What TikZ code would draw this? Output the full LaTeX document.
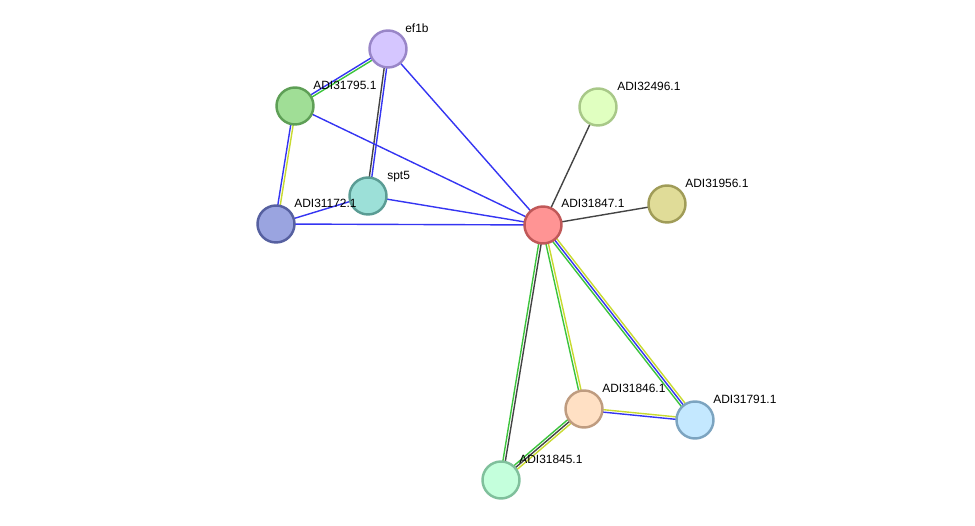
\documentclass[tikz,border=0pt]{standalone}
\usepackage{fontspec}
\setmainfont{Liberation Sans}
\usetikzlibrary{calc, backgrounds}

\definecolor{evblue}{HTML}{3535F2}
\definecolor{evgreen}{HTML}{3CC43C}
\definecolor{evyellow}{HTML}{C8DA30}
\definecolor{evgray}{HTML}{444444}

% one evidence line of an edge, shifted sideways: from, to, colour, offset
\newcommand{\evline}[4]{%
  \draw[evid, #3] ($(#1)!#4!90:(#2)$) -- ($(#2)!#4!-90:(#1)$);}

\begin{document}
\begin{tikzpicture}[
    x=0.02cm, y=-0.02cm,
    prot/.style={circle, line width=1.4pt, minimum size=0.74cm, inner sep=0pt},
    evid/.style={line width=0.8pt},
    lbl/.style={anchor=base west, font=\fontsize{6.8}{8}\selectfont, inner sep=0pt},
]
\useasboundingbox (0,0) rectangle (975,526);

% ============================ proteins ==================================
\node[prot, fill={rgb,255:red,213;green,198;blue,255}, draw={rgb,255:red,153;green,134;blue,200}] (ef1b) at (388,49) {};
\node[prot, fill={rgb,255:red,160;green,222;blue,150}, draw={rgb,255:red,94;green,159;blue,86}] (p31795) at (295,106) {};
\node[prot, fill={rgb,255:red,156;green,224;blue,216}, draw={rgb,255:red,90;green,156;blue,148}] (spt5) at (368,196) {};
\node[prot, fill={rgb,255:red,154;green,164;blue,224}, draw={rgb,255:red,86;green,96;blue,160}] (p31172) at (276,224) {};
\node[prot, fill={rgb,255:red,255;green,148;blue,148}, draw={rgb,255:red,192;green,88;blue,88}] (p31847) at (543,225) {};
\node[prot, fill={rgb,255:red,224;green,255;blue,192}, draw={rgb,255:red,168;green,200;blue,136}] (p32496) at (598,107) {};
\node[prot, fill={rgb,255:red,224;green,220;blue,152}, draw={rgb,255:red,160;green,156;blue,88}] (p31956) at (667,204) {};
\node[prot, fill={rgb,255:red,255;green,224;blue,196}, draw={rgb,255:red,191;green,156;blue,128}] (p31846) at (584,409) {};
\node[prot, fill={rgb,255:red,196;green,232;blue,255}, draw={rgb,255:red,124;green,164;blue,192}] (p31791) at (695,420) {};
\node[prot, fill={rgb,255:red,196;green,255;blue,220}, draw={rgb,255:red,128;green,192;blue,156}] (p31845) at (501,480) {};

% ============================ labels ====================================
\node[lbl] (l-ef1b) at ($(ef1b)+(17,-16)$) {ef1b};
\node[lbl] (l-31795) at ($(p31795)+(18,-16)$) {ADI31795.1};
\node[lbl] (l-spt5) at ($(spt5)+(19,-16)$) {spt5};
\node[lbl] (l-31172) at ($(p31172)+(18,-16)$) {ADI31172.1};
\node[lbl] (l-31847) at ($(p31847)+(18,-17)$) {ADI31847.1};
\node[lbl] (l-32496) at ($(p32496)+(19,-16)$) {ADI32496.1};
\node[lbl] (l-31956) at ($(p31956)+(18,-16)$) {ADI31956.1};
\node[lbl] (l-31846) at ($(p31846)+(18,-16)$) {ADI31846.1};
\node[lbl] (l-31791) at ($(p31791)+(18,-16)$) {ADI31791.1};
\node[lbl] (l-31845) at ($(p31845)+(18,-16)$) {ADI31845.1};

% ============================ edges =====================================
\begin{scope}[on background layer]
  \evline{ef1b}{p31795}{evblue}{-0.7pt}
  \evline{ef1b}{p31795}{evgreen}{0.7pt}
  \evline{ef1b}{spt5}{evgray}{-0.7pt}
  \evline{ef1b}{spt5}{evblue}{0.7pt}
  \evline{ef1b}{p31847}{evblue}{0pt}
  \evline{p31795}{p31172}{evblue}{-0.7pt}
  \evline{p31795}{p31172}{evyellow}{0.7pt}
  \evline{p31795}{p31847}{evblue}{0pt}
  \evline{spt5}{p31172}{evblue}{0pt}
  \evline{spt5}{p31847}{evblue}{0pt}
  \evline{p31172}{p31847}{evblue}{0pt}
  \evline{p32496}{p31847}{evgray}{0pt}
  \evline{p31956}{p31847}{evgray}{0pt}
  % ADI31847.1 down to the cluster
  \evline{p31847}{p31845}{evgreen}{-0.7pt}
  \evline{p31847}{p31845}{evgray}{0.7pt}
  \evline{p31847}{p31846}{evgreen}{-0.7pt}
  \evline{p31847}{p31846}{evyellow}{0.7pt}
  \evline{p31847}{p31791}{evgreen}{-1.4pt}
  \evline{p31847}{p31791}{evblue}{0pt}
  \evline{p31847}{p31791}{evyellow}{1.4pt}
  \evline{p31846}{p31791}{evblue}{-0.7pt}
  \evline{p31846}{p31791}{evyellow}{0.7pt}
  \evline{p31846}{p31845}{evgreen}{-1.4pt}
  \evline{p31846}{p31845}{evgray}{0pt}
  \evline{p31846}{p31845}{evyellow}{1.4pt}
\end{scope}

\end{tikzpicture}
\end{document}
